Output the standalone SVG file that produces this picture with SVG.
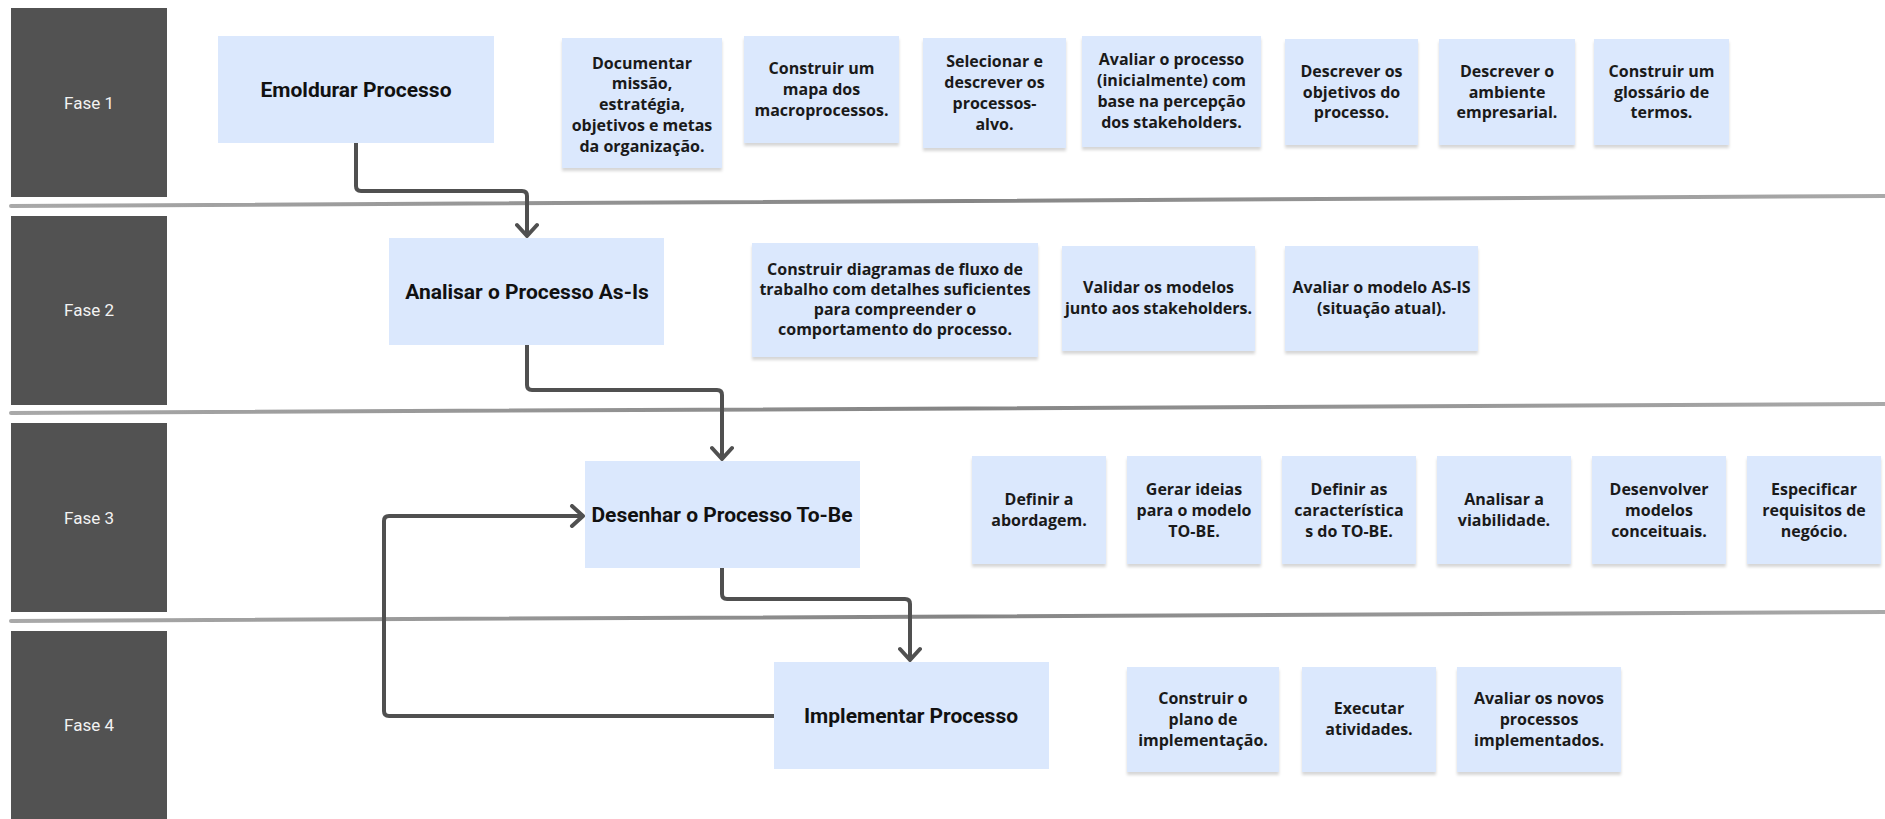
<svg xmlns="http://www.w3.org/2000/svg" width="1885" height="819" viewBox="0 0 1885 819">
  <defs>
    <style>
      .phase { fill: #525252; }
      .phase-label { font-family: Roboto, "Liberation Sans", sans-serif; font-size: 17px; fill: #f2f2f2; text-anchor: middle; }
      .step { fill: #dbe8fd; }
      .step-label { font-family: Roboto, "Liberation Sans", sans-serif; font-size: 21px; font-weight: 700; fill: #111111; text-anchor: middle; }
      .task { fill: #dbe8fd; filter: url(#noteShadow); }
      .task-label { font-family: "Open Sans", "Liberation Sans", sans-serif; font-size: 16px; font-weight: 700; fill: #1a1a1a; text-anchor: middle; }
      .divider { fill: none; stroke: url(#dividerGrad); stroke-width: 4; stroke-linecap: round; }
      .flow { fill: none; stroke: #505050; stroke-width: 4; stroke-linejoin: round; marker-end: url(#chevron); }
    </style>
    <filter id="noteShadow" x="-5%" y="-5%" width="110%" height="120%">
      <feDropShadow dx="0" dy="3" stdDeviation="1.5" flood-color="#000000" flood-opacity="0.16"/>
    </filter>
    <linearGradient id="dividerGrad" gradientUnits="userSpaceOnUse" x1="10" y1="0" x2="1885" y2="0">
      <stop offset="0" stop-color="#a9a9a9"/>
      <stop offset="0.5" stop-color="#858585"/>
      <stop offset="1" stop-color="#a9a9a9"/>
    </linearGradient>
    <marker id="chevron" markerUnits="userSpaceOnUse" viewBox="-14 -12 16 24" refX="0" refY="0" markerWidth="16" markerHeight="24" orient="auto">
      <path d="M -11 -10 L 0 0 L -11 10" fill="none" stroke="#505050" stroke-width="4" stroke-linejoin="round" stroke-linecap="round"/>
    </marker>
  </defs>

  <rect width="1885" height="819" fill="#ffffff"/>

  <!-- phase lanes -->
  <g id="fase-1"><rect class="phase" x="11" y="8" width="156" height="189"/><text class="phase-label" x="89" y="109">Fase 1</text></g>
  <g id="fase-2"><rect class="phase" x="11" y="216" width="156" height="189"/><text class="phase-label" x="89" y="316">Fase 2</text></g>
  <g id="fase-3"><rect class="phase" x="11" y="423" width="156" height="189"/><text class="phase-label" x="89" y="524">Fase 3</text></g>
  <g id="fase-4"><rect class="phase" x="11" y="631" width="156" height="188"/><text class="phase-label" x="89" y="731">Fase 4</text></g>

  <!-- lane dividers -->
  <g id="dividers">
    <path class="divider" d="M 11 206 L 1885 196"/>
    <path class="divider" d="M 11 413 L 1885 404"/>
    <path class="divider" d="M 11 621 L 1885 612"/>
  </g>

  <!-- main steps -->
  <g id="emoldurar"><rect class="step" x="218" y="36" width="276" height="107"/><text class="step-label" x="356" y="97">Emoldurar Processo</text></g>
  <g id="analisar"><rect class="step" x="389" y="238" width="275" height="107"/><text class="step-label" x="527" y="299">Analisar o Processo As-Is</text></g>
  <g id="desenhar"><rect class="step" x="585" y="461" width="275" height="107"/><text class="step-label" x="722" y="522">Desenhar o Processo To-Be</text></g>
  <g id="implementar"><rect class="step" x="774" y="662" width="275" height="107"/><text class="step-label" x="911" y="723">Implementar Processo</text></g>

  <!-- connectors -->
  <g id="connectors">
    <path class="flow" d="M 356 143 V 186 Q 356 191 361 191 H 522 Q 527 191 527 196 V 236"/>
    <path class="flow" d="M 527 345 V 385 Q 527 390 532 390 H 717 Q 722 390 722 395 V 459"/>
    <path class="flow" d="M 722 568 V 594 Q 722 599 727 599 H 905 Q 910 599 910 604 V 660"/>
    <path class="flow" d="M 774 716 H 389 Q 384 716 384 711 V 521 Q 384 516 389 516 H 583"/>
  </g>

  <!-- Fase 1 tasks -->
  <g id="t1-documentar"><rect class="task" x="562" y="38" width="160" height="130"/>
    <text class="task-label" x="642" y="68.5"><tspan x="642">Documentar</tspan><tspan x="642" dy="20.8">missão,</tspan><tspan x="642" dy="20.8">estratégia,</tspan><tspan x="642" dy="20.8">objetivos e metas</tspan><tspan x="642" dy="20.8">da organização.</tspan></text></g>
  <g id="t1-mapa"><rect class="task" x="744" y="36" width="155" height="107"/>
    <text class="task-label" x="821.5" y="74.2"><tspan x="821.5">Construir um</tspan><tspan x="821.5" dy="20.8">mapa dos</tspan><tspan x="821.5" dy="20.8">macroprocessos.</tspan></text></g>
  <g id="t1-selecionar"><rect class="task" x="923" y="38" width="143" height="110"/>
    <text class="task-label" x="994.5" y="67.3"><tspan x="994.5">Selecionar e</tspan><tspan x="994.5" dy="20.8">descrever os</tspan><tspan x="994.5" dy="20.8">processos-</tspan><tspan x="994.5" dy="20.8">alvo.</tspan></text></g>
  <g id="t1-avaliar"><rect class="task" x="1082" y="36" width="179" height="111"/>
    <text class="task-label" x="1171.5" y="65.3"><tspan x="1171.5">Avaliar o processo</tspan><tspan x="1171.5" dy="20.8">(inicialmente) com</tspan><tspan x="1171.5" dy="20.8">base na percepção</tspan><tspan x="1171.5" dy="20.8">dos stakeholders.</tspan></text></g>
  <g id="t1-objetivos"><rect class="task" x="1285" y="39" width="133" height="106"/>
    <text class="task-label" x="1351.5" y="76.7"><tspan x="1351.5">Descrever os</tspan><tspan x="1351.5" dy="20.8">objetivos do</tspan><tspan x="1351.5" dy="20.8">processo.</tspan></text></g>
  <g id="t1-ambiente"><rect class="task" x="1439" y="39" width="136" height="106"/>
    <text class="task-label" x="1507" y="76.7"><tspan x="1507">Descrever o</tspan><tspan x="1507" dy="20.8">ambiente</tspan><tspan x="1507" dy="20.8">empresarial.</tspan></text></g>
  <g id="t1-glossario"><rect class="task" x="1594" y="39" width="135" height="106"/>
    <text class="task-label" x="1661.5" y="76.7"><tspan x="1661.5">Construir um</tspan><tspan x="1661.5" dy="20.8">glossário de</tspan><tspan x="1661.5" dy="20.8">termos.</tspan></text></g>

  <!-- Fase 2 tasks -->
  <g id="t2-diagramas"><rect class="task" x="752" y="243" width="286" height="114"/>
    <text class="task-label" x="895" y="274.5"><tspan x="895">Construir diagramas de fluxo de</tspan><tspan x="895" dy="20.3">trabalho com detalhes suficientes</tspan><tspan x="895" dy="20.3">para compreender o</tspan><tspan x="895" dy="20.3">comportamento do processo.</tspan></text></g>
  <g id="t2-validar"><rect class="task" x="1062" y="246" width="193" height="105"/>
    <text class="task-label" x="1158.5" y="293.3"><tspan x="1158.5">Validar os modelos</tspan><tspan x="1158.5" dy="20.3">junto aos stakeholders.</tspan></text></g>
  <g id="t2-asis"><rect class="task" x="1285" y="246" width="193" height="105"/>
    <text class="task-label" x="1381.5" y="293.3"><tspan x="1381.5">Avaliar o modelo AS-IS</tspan><tspan x="1381.5" dy="20.3">(situação atual).</tspan></text></g>

  <!-- Fase 3 tasks -->
  <g id="t3-abordagem"><rect class="task" x="972" y="456" width="134" height="108"/>
    <text class="task-label" x="1039" y="505"><tspan x="1039">Definir a</tspan><tspan x="1039" dy="21">abordagem.</tspan></text></g>
  <g id="t3-ideias"><rect class="task" x="1127" y="456" width="134" height="108"/>
    <text class="task-label" x="1194" y="494.5"><tspan x="1194">Gerar ideias</tspan><tspan x="1194" dy="21">para o modelo</tspan><tspan x="1194" dy="21">TO-BE.</tspan></text></g>
  <g id="t3-caracteristicas"><rect class="task" x="1282" y="456" width="134" height="108"/>
    <text class="task-label" x="1349" y="494.5"><tspan x="1349">Definir as</tspan><tspan x="1349" dy="21">característica</tspan><tspan x="1349" dy="21">s do TO-BE.</tspan></text></g>
  <g id="t3-viabilidade"><rect class="task" x="1437" y="456" width="134" height="108"/>
    <text class="task-label" x="1504" y="505"><tspan x="1504">Analisar a</tspan><tspan x="1504" dy="21">viabilidade.</tspan></text></g>
  <g id="t3-modelos"><rect class="task" x="1592" y="456" width="134" height="108"/>
    <text class="task-label" x="1659" y="494.5"><tspan x="1659">Desenvolver</tspan><tspan x="1659" dy="21">modelos</tspan><tspan x="1659" dy="21">conceituais.</tspan></text></g>
  <g id="t3-requisitos"><rect class="task" x="1747" y="456" width="134" height="108"/>
    <text class="task-label" x="1814" y="494.5"><tspan x="1814">Especificar</tspan><tspan x="1814" dy="21">requisitos de</tspan><tspan x="1814" dy="21">negócio.</tspan></text></g>

  <!-- Fase 4 tasks -->
  <g id="t4-plano"><rect class="task" x="1127" y="667" width="152" height="105"/>
    <text class="task-label" x="1203" y="703.5"><tspan x="1203">Construir o</tspan><tspan x="1203" dy="21">plano de</tspan><tspan x="1203" dy="21">implementação.</tspan></text></g>
  <g id="t4-executar"><rect class="task" x="1302" y="667" width="134" height="105"/>
    <text class="task-label" x="1369" y="714"><tspan x="1369">Executar</tspan><tspan x="1369" dy="21">atividades.</tspan></text></g>
  <g id="t4-avaliar"><rect class="task" x="1457" y="667" width="164" height="105"/>
    <text class="task-label" x="1539" y="703.5"><tspan x="1539">Avaliar os novos</tspan><tspan x="1539" dy="21">processos</tspan><tspan x="1539" dy="21">implementados.</tspan></text></g>
</svg>
